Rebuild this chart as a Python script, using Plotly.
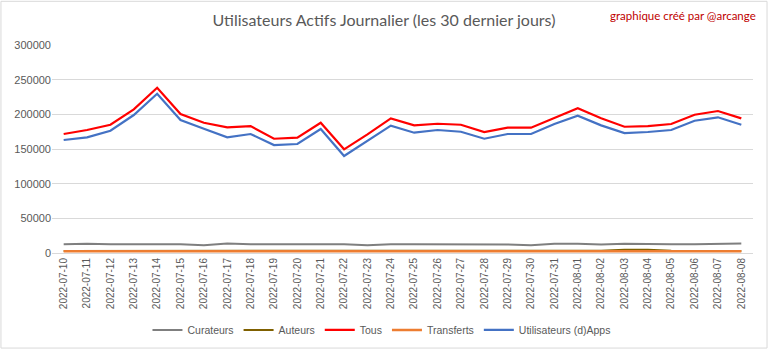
import plotly.graph_objects as go

dates = ["2022-07-10","2022-07-11","2022-07-12","2022-07-13","2022-07-14","2022-07-15","2022-07-16",
         "2022-07-17","2022-07-18","2022-07-19","2022-07-20","2022-07-21","2022-07-22","2022-07-23",
         "2022-07-24","2022-07-25","2022-07-26","2022-07-27","2022-07-28","2022-07-29","2022-07-30",
         "2022-07-31","2022-08-01","2022-08-02","2022-08-03","2022-08-04","2022-08-05","2022-08-06",
         "2022-08-07","2022-08-08"]

curateurs = [12500,13500,12800,12600,12600,12500,11200,13600,12800,12700,12700,12700,12600,11300,
             12700,12600,12600,12600,12600,12300,11300,13200,13300,12300,13400,12700,12600,12700,
             13500,13600]
auteurs = [3000,3000,3000,3000,3000,3000,3000,3000,3000,3000,3000,3000,3000,3000,
           3000,3000,3000,3000,3000,3000,3000,3000,3800,3200,4800,4800,3200,3000,3000,3000]
tous = [171600,177400,185000,207200,238400,200400,187900,181200,183100,164800,166300,187900,149500,171100,
        194200,184100,186400,185000,174500,180700,180700,194700,208700,194200,182100,183100,186000,199400,
        204800,194200]
transferts = [2500,2500,2500,2500,2500,2500,2500,2500,2500,2500,2500,2500,2500,2500,
              2500,2800,2500,2500,2500,2500,2500,2500,2800,2500,2500,2500,2500,2500,2500,2500]
dapps = [163000,166800,176400,199000,229700,191800,179300,166800,171600,155700,157200,178800,139900,162000,
         183600,173500,177400,174900,164800,171600,171600,186000,198000,184100,173000,174500,177400,190800,
         195700,185000]

series = [
    ("Curateurs", curateurs, "#7f7f7f", 2),
    ("Auteurs", auteurs, "#7f6000", 2),
    ("Tous", tous, "#ff0000", 2.2),
    ("Transferts", transferts, "#ed7d31", 2.5),
    ("Utilisateurs (d)Apps", dapps, "#4472c4", 2.2),
]

fig = go.Figure()
for name, vals, col, w in series:
    fig.add_trace(go.Scatter(x=dates, y=vals, mode="lines", name=name,
                             line=dict(color=col, width=w)))

fig.update_layout(
    width=768, height=349,
    margin=dict(l=52, r=15, t=45, b=96, autoexpand=False),
    paper_bgcolor="white", plot_bgcolor="white",
    font=dict(family="Liberation Sans, Arial", color="#595959", size=11),
    title=dict(text="Utilisateurs Actifs Journalier (les 30 dernier jours)",
               x=0.5, xref="container", xanchor="center", y=20/349, yref="container", yanchor="middle",
               font=dict(family="Lato, Open Sans", size=16, color="#595959")),
    showlegend=True,
    legend=dict(orientation="h", x=0.47, xanchor="center", y=-0.37, yanchor="middle",
                font=dict(size=10.5, color="#595959"), itemwidth=30, tracegroupgap=0),
    xaxis=dict(type="category", range=[-0.5, 29.5], tickangle=-90, automargin=False,
               showgrid=False, showline=True, linecolor="#d9d9d9", ticks="",
               tickfont=dict(size=10, color="#595959")),
    yaxis=dict(range=[0, 300000], dtick=50000, showgrid=True, gridcolor="#d9d9d9",
               zeroline=False, showline=False, ticks="", tickformat="d", automargin=False,
               tickfont=dict(size=11, color="#595959")),
)
# title y in container coords is measured from bottom
fig.update_layout(title_y=1 - 20/349)

fig.add_annotation(text="graphique créé par @arcange", xref="paper", yref="paper",
                   x=1.007, y=1.144, xanchor="right", yanchor="middle", showarrow=False,
                   font=dict(family="Lato, Open Sans", size=11.5, color="#c00000"))

fig.add_shape(type="rect", xref="paper", yref="paper", x0=-0.0728, x1=1.02, y0=-0.457, y1=1.21,
              line=dict(color="#d9d9d9", width=1), fillcolor="rgba(0,0,0,0)", layer="below")

fig.write_html("out.html")
